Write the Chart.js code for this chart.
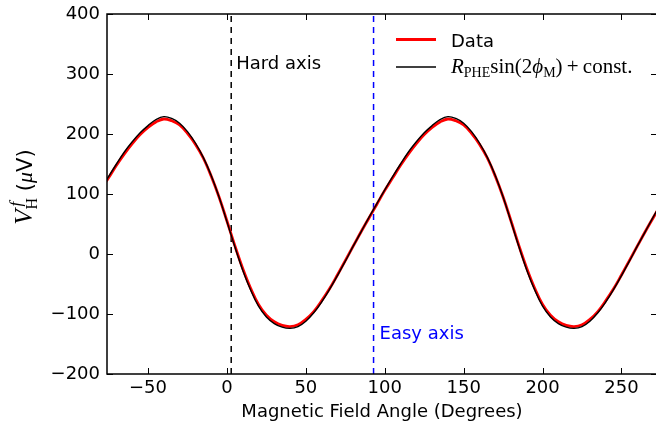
<!DOCTYPE html>
<html>
<head>
<meta charset="utf-8">
<title>Hall voltage vs field angle</title>
<script src="https://cdn.jsdelivr.net/npm/chart.js@4.4.1/dist/chart.umd.min.js"></script>
<style>
  html, body { margin: 0; padding: 0; background: #fff; overflow: hidden; }
  canvas { display: block; }
</style>
</head>
<body>
<canvas id="hallChart" width="660" height="431"></canvas>
<script>
// field angle in degrees
var angles = [-77, -75, -70, -65, -60, -55, -50, -45, -40, -35, -30, -25, -20, -15, -10, -5,
  0, 5, 10, 15, 20, 25, 30, 35, 40, 45, 50, 55, 60, 65, 70, 75, 80, 85, 90, 95,
  100, 105, 110, 115, 120, 125, 130, 135, 140, 145, 150, 155, 160, 165, 170, 175,
  180, 185, 190, 195, 200, 205, 210, 215, 220, 225, 230, 235, 240, 245, 250, 255,
  260, 265, 270, 275];

// measured V_H (uV)
var dataValues = [119, 127, 148, 167, 184, 199, 211, 220, 225, 222, 215, 201, 183, 160, 130, 95,
  55, 14, -24, -57, -84, -102, -113, -119, -121, -118, -109, -96, -78, -58, -35, -11, 13, 37, 60, 83,
  106, 127, 148, 167, 184, 199, 211, 220, 225, 222, 215, 201, 183, 160, 130, 95,
  55, 14, -24, -57, -84, -102, -113, -119, -121, -118, -109, -96, -78, -58, -35, -11,
  13, 37, 60, 83];

// fitted R_PHE sin(2 phi_M) + const
var fitValues = [120, 129, 150, 170, 187, 202, 214, 224, 229, 226, 218, 204, 185, 161, 131, 95,
  54, 12, -27, -60, -87, -105, -116, -122, -124, -121, -112, -98, -80, -59, -36, -12, 13, 37, 61, 84,
  107, 129, 150, 170, 187, 202, 214, 224, 229, 226, 218, 204, 185, 161, 131, 95,
  54, 12, -27, -60, -87, -105, -116, -122, -124, -121, -112, -98, -80, -59, -36, -12,
  13, 37, 61, 84];

var xTicks = [-50, 0, 50, 100, 150, 200, 250];
var yTicks = [-200, -100, 0, 100, 200, 300, 400];
var hardAxisAngle = 2.7;
var easyAxisAngle = 92.9;

function toPoints(xs, ys) {
  var pts = [];
  for (var i = 0; i < xs.length; i++) pts.push({x: xs[i], y: ys[i]});
  return pts;
}

function minusSign(v) {
  return String(v).replace('-', '\u2212');
}

// draw a row of text pieces (for the math-like labels)
function drawRuns(ctx, runs, x, y, align) {
  var total = 0, widths = [];
  runs.forEach(function(r) {
    ctx.font = r.font;
    var w = ctx.measureText(r.text).width;
    widths.push(w);
    if (!r.stack) total += w;
  });
  var cx = align === 'center' ? x - total / 2 : x;
  var prev = 0;
  runs.forEach(function(r, i) {
    ctx.font = r.font;
    var px = r.stack ? cx - prev + (r.dx || 0) : cx;
    ctx.fillText(r.text, px, y + (r.dy || 0));
    if (!r.stack) { cx += widths[i]; prev = widths[i]; }
  });
}

var decorations = {
  id: 'decorations',
  afterDatasetsDraw: function(chart) {
    var ctx = chart.ctx, a = chart.chartArea;
    var xs = chart.scales.x, ys = chart.scales.y;
    ctx.save();
    ctx.strokeStyle = '#000';
    ctx.lineWidth = 1;
    ctx.beginPath();
    xTicks.forEach(function(v) {
      var px = Math.round(xs.getPixelForValue(v)) + 0.5;
      ctx.moveTo(px, a.bottom); ctx.lineTo(px, a.bottom - 6);
      ctx.moveTo(px, a.top); ctx.lineTo(px, a.top + 6);
    });
    yTicks.forEach(function(v) {
      var py = Math.round(ys.getPixelForValue(v)) + 0.5;
      ctx.moveTo(a.left, py); ctx.lineTo(a.left + 6, py);
      ctx.moveTo(a.right, py); ctx.lineTo(a.right - 6, py);
    });
    ctx.stroke();
    ctx.lineWidth = 1.5;
    ctx.strokeRect(a.left, a.top, a.right - a.left, a.bottom - a.top);

    // annotations
    ctx.textBaseline = 'alphabetic';
    ctx.textAlign = 'left';
    ctx.font = '18px "DejaVu Sans"';
    ctx.fillStyle = '#000';
    ctx.fillText('Hard axis', xs.getPixelForValue(hardAxisAngle) + 5, ys.getPixelForValue(309));
    ctx.fillStyle = '#0000ff';
    ctx.fillText('Easy axis', xs.getPixelForValue(easyAxisAngle) + 6, ys.getPixelForValue(-141));

    // legend
    ctx.lineWidth = 2.8;
    ctx.strokeStyle = '#ff0000';
    ctx.beginPath(); ctx.moveTo(396, 39.5); ctx.lineTo(436, 39.5); ctx.stroke();
    ctx.lineWidth = 1.4;
    ctx.strokeStyle = '#000';
    ctx.beginPath(); ctx.moveTo(396, 67); ctx.lineTo(436, 67); ctx.stroke();
    ctx.fillStyle = '#000';
    ctx.font = '18px "DejaVu Sans"';
    ctx.fillText('Data', 451, 46.5);
    var serif = '"Liberation Serif", "DejaVu Serif", serif';
    drawRuns(ctx, [
      {text: 'R', font: 'italic 21px ' + serif},
      {text: 'PHE', font: '14px ' + serif, dy: 4},
      {text: 'sin(2', font: '21px ' + serif},
      {text: '\u03d5', font: 'italic 21px ' + serif},
      {text: 'M', font: '14px ' + serif, dy: 4},
      {text: ')\u2009+\u2009const.', font: '21px ' + serif}
    ], 451, 73, 'left');

    // y axis title
    ctx.save();
    ctx.translate(32, (a.top + a.bottom) / 2 - 7);
    ctx.rotate(-Math.PI / 2);
    drawRuns(ctx, [
      {text: 'V', font: 'italic 25px ' + serif},
      {text: 'H', font: '16px ' + serif, dy: 5},
      {text: 'f', font: 'italic 17px ' + serif, dy: -11, stack: true, dx: 3},
      {text: ' (', font: '21px "DejaVu Sans"'},
      {text: '\u03bc', font: 'italic 22px ' + serif},
      {text: 'V)', font: '21px "DejaVu Sans"'}
    ], 0, 0, 'center');
    ctx.restore();
    ctx.restore();
  }
};

var tickFont = {family: 'DejaVu Sans', size: 18};

new Chart(document.getElementById('hallChart'), {
  type: 'line',
  data: {
    datasets: [
      {
        label: 'fit',
        data: toPoints(angles, fitValues),
        borderColor: '#000000',
        borderWidth: 1.4,
        pointRadius: 0,
        tension: 0.4
      },
      {
        label: 'Data',
        data: toPoints(angles, dataValues),
        borderColor: '#ff0000',
        borderWidth: 2.8,
        pointRadius: 0,
        tension: 0.4
      },
      {
        label: 'Hard axis',
        data: [{x: hardAxisAngle, y: -200}, {x: hardAxisAngle, y: 400}],
        borderColor: '#000000',
        borderWidth: 1.5,
        borderDash: [6, 5],
        pointRadius: 0
      },
      {
        label: 'Easy axis',
        data: [{x: easyAxisAngle, y: -200}, {x: easyAxisAngle, y: 400}],
        borderColor: '#0000ff',
        borderWidth: 1.5,
        borderDash: [6, 5],
        pointRadius: 0
      }
    ]
  },
  options: {
    responsive: false,
    animation: false,
    layout: {padding: {top: 14, right: 3, left: 0, bottom: 0}},
    plugins: {legend: {display: false}, tooltip: {enabled: false}},
    scales: {
      x: {
        type: 'linear',
        min: -76,
        max: 272.5,
        afterBuildTicks: function(s) { s.ticks = xTicks.map(function(v) { return {value: v}; }); },
        afterFit: function(s) { s.height = 57; s.paddingLeft = 0; s.paddingRight = 0; },
        grid: {display: false, drawTicks: false},
        border: {display: false},
        ticks: {color: '#000', font: tickFont, padding: 4, maxRotation: 0, callback: minusSign},
        title: {display: true, text: 'Magnetic Field Angle (Degrees)', color: '#000',
          font: {family: 'DejaVu Sans', size: 18}, padding: {top: 0, bottom: 8}}
      },
      y: {
        min: -200,
        max: 400,
        afterBuildTicks: function(s) { s.ticks = yTicks.map(function(v) { return {value: v}; }); },
        afterFit: function(s) { s.width = 107; s.paddingTop = 0; s.paddingBottom = 0; },
        grid: {display: false, drawTicks: false},
        border: {display: false},
        ticks: {color: '#000', font: tickFont, padding: 7, callback: minusSign}
      }
    }
  },
  plugins: [decorations]
});
</script>
</body>
</html>
